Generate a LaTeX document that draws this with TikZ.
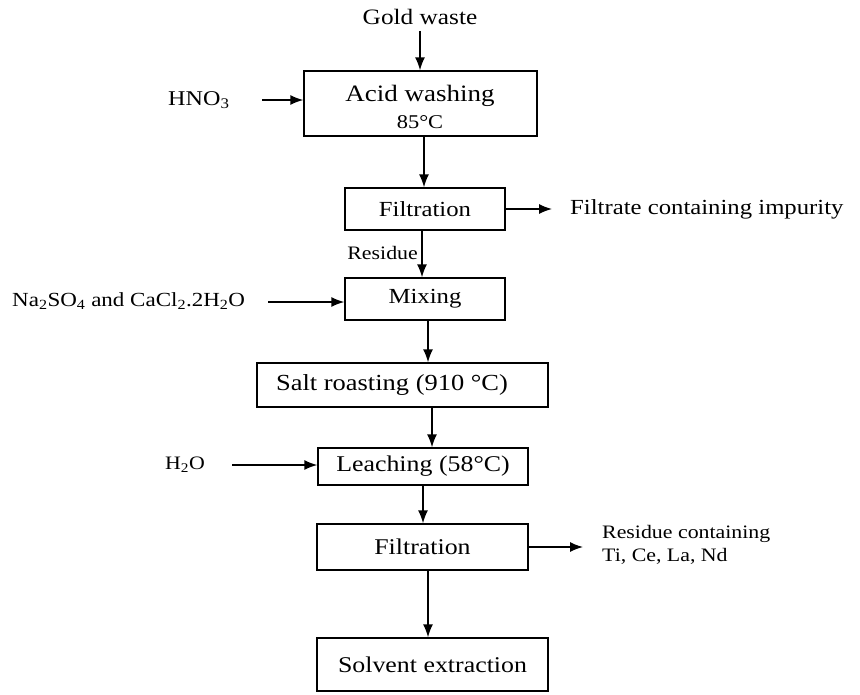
\documentclass[tikz,border=0pt]{standalone}
\usepackage{fontspec}
\setmainfont[FakeStretch=1.15]{Liberation Serif}
\usetikzlibrary{arrows.meta}
\newcommand{\fsz}[1]{\fontsize{#1}{#1}\selectfont}
\begin{document}
\begin{tikzpicture}[x=1pt,y=-1pt,
  box/.style={draw,line width=1.4pt,inner sep=0pt,anchor=center},
  flow/.style={line width=1.4pt,-{Latex[length=13pt,width=10pt]}},
  lbl/.style={inner sep=0pt}]
\useasboundingbox[fill=white] (0,0) rectangle (860,694);
% boxes
\node[box,minimum width=233pt,minimum height=65pt] (acid) at (420.5,103.5) {};
\node[lbl,font=\fsz{23.5}] (acidt) at (420,96) {Acid washing};
\node[lbl,font=\fsz{19.5}] (acidc) at (420,122) {85°C};
\node[box,minimum width=160pt,minimum height=42pt,font=\fsz{21.5}] (filt1) at (425,209) {Filtration};
\node[box,minimum width=160pt,minimum height=42pt,font=\fsz{21.5}] (mix) at (425,299) {Mixing};
\node[box,minimum width=291pt,minimum height=44pt,font=\fsz{23}] (salt) at (402.5,385) {Salt roasting (910 °C)\hspace*{21pt}};
\node[box,minimum width=210pt,minimum height=37pt,font=\fsz{22.5}] (leach) at (423,466.5) {Leaching (58°C)};
\node[box,minimum width=211pt,minimum height=46pt,font=\fsz{22.5}] (filt2) at (422.5,547) {Filtration};
\node[box,minimum width=231pt,minimum height=53pt,font=\fsz{22.5}] (solv) at (432.5,664.5) {Solvent extraction};
% side labels
\node[lbl,font=\fsz{22}] (gold) at (420,17) {Gold waste};
\node[lbl,font=\fsz{21},anchor=west] (hno) at (168,100) {HNO\textsubscript{3}};
\node[lbl,font=\fsz{21.5},anchor=west] (filtrate) at (570,209) {Filtrate containing impurity};
\node[lbl,font=\fsz{19},anchor=east] (resid) at (418,253) {Residue};
\node[lbl,font=\fsz{20},anchor=west] (salts) at (12,301) {Na\textsubscript{2}SO\textsubscript{4} and CaCl\textsubscript{2}.2H\textsubscript{2}O};
\node[lbl,font=\fsz{19},anchor=west] (water) at (165,465) {H\textsubscript{2}O};
\node[lbl,font=\fsz{19},anchor=west,align=left] (resc) at (602,545) {Residue containing\\[4pt]Ti, Ce, La, Nd};
% free ends
\coordinate (e1) at (552,209);
\coordinate (e2) at (583,547);
% connectors
\draw[flow] (gold.south -| 420,0) ++(0,6) -- (acid.north -| 420,0);
\draw[flow] (262,100) -- (acid.west |- 0,100);
\draw[flow] (acid.south -| 424,0) -- (filt1.north -| 424,0);
\draw[flow] (filt1.east) -- (e1);
\draw[flow] (filt1.south -| 422,0) -- (mix.north -| 422,0);
\draw[flow] (268,302) -- (mix.west |- 0,302);
\draw[flow] (mix.south -| 428,0) -- (salt.north -| 428,0);
\draw[flow] (salt.south -| 432,0) -- (leach.north -| 432,0);
\draw[flow] (232,465) -- (leach.west |- 0,465);
\draw[flow] (leach.south -| 423,0) -- (filt2.north -| 423,0);
\draw[flow] (filt2.east) -- (e2);
\draw[flow] (filt2.south -| 428,0) -- (solv.north -| 428,0);
\end{tikzpicture}
\end{document}
